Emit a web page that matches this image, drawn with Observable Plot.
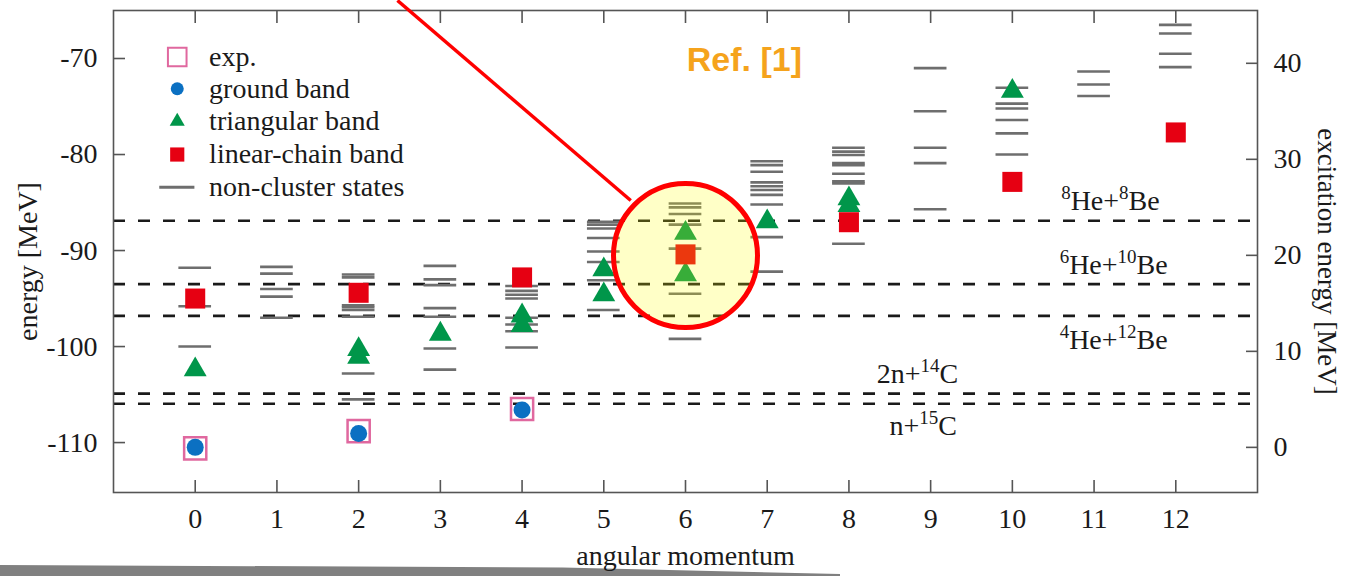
<!DOCTYPE html>
<html><head><meta charset="utf-8">
<script src="https://cdn.jsdelivr.net/npm/d3@7"></script>
<script src="https://cdn.jsdelivr.net/npm/@observablehq/plot@0.6"></script>
<style>
html,body{margin:0;padding:0;background:#fff;}
#wrap{position:relative;width:1345px;height:576px;overflow:hidden;background:#fff;}
#wrap svg{position:absolute;left:0;top:0;}
#wrap svg text{font-family:'Liberation Serif','Times New Roman',serif;}
#wrap svg text.sans{font-family:'Liberation Sans',Arial,sans-serif;}
#shade{position:absolute;left:0;top:563px;width:840px;height:13px;background:#808080;
  clip-path:polygon(0 15%, 67% 35%, 100% 85%, 100% 100%, 0 100%);}
</style></head><body><div id="wrap"><div id="shade"></div></div>
<script>
// ---- data ----
const angularMomenta = [0,1,2,3,4,5,6,7,8,9,10,11,12];
const energyTicks = [-110,-100,-90,-80,-70];
const excitationTicks = [0,10,20,30,40];
const groundStateE = -110.5; // zero of excitation energy

// non-cluster states, indexed by angular momentum J
const nonCluster = [
  [-91.8, -95.8, -100.0],
  [-91.7, -92.4, -94.0, -94.8, -97.0],
  [-92.5, -92.8, -95.7, -95.9, -96.2, -96.9, -102.8, -105.5],
  [-91.6, -93.0, -93.6, -96.0, -96.9, -100.2, -102.4],
  [-93.7, -94.2, -94.6, -95.0, -97.0, -97.7, -98.4, -100.1],
  [-87.0, -87.3, -87.7, -88.7, -90.1, -91.2, -93.1, -96.2],
  [-85.1, -85.5, -86.2, -87.3, -89.8, -94.5, -99.2],
  [-80.7, -81.1, -81.8, -82.9, -83.3, -83.7, -84.2, -85.2, -88.6, -92.2],
  [-79.3, -79.7, -80.05, -80.9, -81.1, -82.0, -82.8, -83.0, -89.3],
  [-71.0, -75.5, -79.3, -80.9, -85.7],
  [-73.05, -74.7, -75.2, -76.4, -77.8, -80.0],
  [-71.35, -72.7, -73.9],
  [-66.5, -67.4, -69.5, -70.9]
];
const expJ = [0, 2, 4];
const expE = [-110.6, -108.8, -106.5];
const groundJ = [0, 2, 4];
const groundE = [-110.5, -109.05, -106.6];
const triJ = [0, 2, 2, 3, 4, 4, 5, 5, 6, 6, 7, 8, 8, 10];
const triE = [-102.4, -100.3, -101.1, -98.7, -96.8, -97.8, -92.0, -94.6, -88.2, -92.5, -87.0, -84.6, -85.3, -73.4];
const linJ = [0, 2, 4, 6, 8, 10, 12];
const linE = [-95.0, -94.4, -92.8, -90.4, -87.05, -82.85, -77.7];
const thresholdE = [-86.9, -93.5, -96.8, -104.9, -105.95];
const thresholdLabels = ["{8}He+{8}Be", "{6}He+{10}Be", "{4}He+{12}Be", "2n+{14}C", "n+{15}C"];
const legendLabels = ["exp.", "ground band", "triangular band", "linear-chain band", "non-cluster states"];

// ---- colours ----
const C = {exp: "#e0689f", ground: "#0b70c2", tri: "#00964a", lin: "#e60012", nc: "#6e6e6e", axis: "#555"};

// ---- tables built from the arrays ----
const ncRows = nonCluster.flatMap((es, j) => es.map(e => ({j, e})));
const zipRows = (js, es) => js.map((j, i) => ({j, e: es[i]}));
const expRows = zipRows(expJ, expE);
const groundRows = zipRows(groundJ, groundE);
const triRows = zipRows(triJ, triE);
const linRows = zipRows(linJ, linE);

// annotation / layout positions (in data units)
const thrLabelX = [11.2, 11.24, 11.24, 8.84, 8.91];
const thrLabelY = [-84.8, -91.5, -99.3, -102.9, -108.3];
const legendY = [-69.85, -73.15, -76.55, -80.0, -83.4];
const legendSymX = -0.22, legendTextX = 0.17;

const serif = "'Liberation Serif','Times New Roman',serif";
const FS = 28;

const chart = Plot.plot({
  width: 1345, height: 576,
  marginLeft: 113, marginRight: 88, marginTop: 10, marginBottom: 84,
  x: {domain: [-1, 13]},
  y: {domain: [-115.2, -65]},
  style: {fontFamily: serif, fontSize: FS + "px", color: "#1a1a1a", background: "transparent", overflow: "visible"},
  marks: [
    // thresholds
    Plot.ruleY(thresholdE, {stroke: "#1a1a1a", strokeWidth: 2.6, strokeDasharray: "12,13"}),
    Plot.text(thresholdLabels, {x: (d, i) => thrLabelX[i], y: (d, i) => thrLabelY[i], text: d => d, fontSize: FS, fontFamily: serif}),
    // non-cluster states
    Plot.ruleY(ncRows, {y: "e", x1: d => d.j - 0.2, x2: d => d.j + 0.2, stroke: C.nc, strokeWidth: 2.6}),
    // experiment & bands
    Plot.dot(expRows, {x: "j", y: "e", symbol: "square", r: 12.5, stroke: C.exp, strokeWidth: 2.5, fill: "none"}),
    Plot.dot(groundRows, {x: "j", y: "e", symbol: "circle", r: 8.5, fill: C.ground}),
    Plot.dot(triRows, {x: "j", y: "e", symbol: "triangle", r: 8.5, fill: C.tri}),
    Plot.dot(linRows, {x: "j", y: "e", symbol: "square", r: 11.3, fill: C.lin}),
    // legend
    Plot.dot([0], {x: legendSymX, y: legendY[0], symbol: "square", r: 10.5, stroke: C.exp, strokeWidth: 2, fill: "none"}),
    Plot.dot([0], {x: legendSymX, y: legendY[1], symbol: "circle", r: 6.5, fill: C.ground}),
    Plot.dot([0], {x: legendSymX, y: legendY[2], symbol: "triangle", r: 5.6, fill: C.tri}),
    Plot.dot([0], {x: legendSymX, y: legendY[3], symbol: "square", r: 8, fill: C.lin}),
    Plot.link([0], {x1: legendSymX - 0.22, x2: legendSymX + 0.21, y1: legendY[4], y2: legendY[4], stroke: C.nc, strokeWidth: 3}),
    Plot.text(legendLabels, {x: legendTextX, y: (d, i) => legendY[i], text: d => d, textAnchor: "start", fontSize: FS, fontFamily: serif}),
    // frame & axes
    Plot.frame({stroke: C.axis, strokeWidth: 1.6}),
    Plot.axisY({anchor: "left", ticks: energyTicks, tickSize: 0, tickPadding: 16, tickFormat: d => String(d), label: null, fontSize: FS, fontFamily: serif, fontVariant: "normal"}),
    Plot.axisY({anchor: "left", ticks: energyTicks, tickSize: 12, dx: 12, fill: "none", stroke: C.axis, strokeWidth: 1.6, label: null}),
    Plot.axisY({anchor: "right", ticks: excitationTicks.map(v => v + groundStateE), tickSize: 0, tickPadding: 16, tickFormat: d => String(Math.round(d - groundStateE)), label: null, fontSize: FS, fontFamily: serif, fontVariant: "normal"}),
    Plot.axisY({anchor: "right", ticks: excitationTicks.map(v => v + groundStateE), tickSize: 12, dx: -12, fill: "none", stroke: C.axis, strokeWidth: 1.6, label: null}),
    Plot.axisX({anchor: "bottom", ticks: angularMomenta, tickSize: 0, tickPadding: 16, tickFormat: d => String(d), label: null, fontSize: FS, fontFamily: serif, fontVariant: "normal"}),
    Plot.axisX({anchor: "bottom", ticks: angularMomenta, tickSize: 12, dy: -12, fill: "none", stroke: C.axis, strokeWidth: 1.6, label: null}),
    Plot.axisX({anchor: "top", ticks: angularMomenta, tickSize: 12, dy: 12, fill: "none", stroke: C.axis, strokeWidth: 1.6, label: null}),
    Plot.text(["energy [MeV]"], {frameAnchor: "left", dx: -85, dy: 10, rotate: -90, textAnchor: "middle", lineAnchor: "middle", text: d => d, fontSize: FS, fontFamily: serif}),
    Plot.text(["excitation energy [MeV]"], {frameAnchor: "right", dx: 69, dy: 10, rotate: 90, textAnchor: "middle", lineAnchor: "middle", text: d => d, fontSize: 27, fontFamily: serif}),
    Plot.text(["angular momentum"], {frameAnchor: "bottom", dy: 64, textAnchor: "middle", lineAnchor: "middle", text: d => d, fontSize: FS, fontFamily: serif}),
    // highlight annotation
    Plot.link([0], {x1: 2.475, y1: -63.96, x2: 5.33, y2: -84.79, stroke: "#ff0000", strokeWidth: 3.5}),
    Plot.dot([0], {x: 6, y: -90.52, r: 72, fill: "#ffff00", fillOpacity: 0.22, stroke: "#ff0000", strokeWidth: 5}),
    Plot.text(["Ref. [1]"], {x: 6.72, y: -70.2, text: d => d, fill: "#f5a31c", fontWeight: "bold", fontSize: 34, fontFamily: "'Liberation Sans', Arial, sans-serif"})
  ]
});

// sans-serif label for the reference tag
d3.select(chart).selectAll("text").filter(function () { return this.textContent === "Ref. [1]"; }).classed("sans", true);

// superscripts: "{n}" -> raised smaller tspan
d3.select(chart).selectAll("text").each(function () {
  const t = this.textContent;
  if (!t.includes("{")) return;
  const sel = d3.select(this);
  sel.selectAll("*").remove();
  sel.text(null);
  const parts = t.split(/(\{[^}]*\})/).filter(s => s);
  let raised = false;
  parts.forEach(p => {
    if (p.startsWith("{")) {
      sel.append("tspan").attr("font-size", 19).attr("dy", raised ? 0 : -11).text(p.slice(1, -1));
      raised = true;
    } else {
      sel.append("tspan").attr("dy", raised ? 11 : 0).text(p);
      raised = false;
    }
  });
});

document.getElementById("wrap").appendChild(chart);
</script></body></html>
